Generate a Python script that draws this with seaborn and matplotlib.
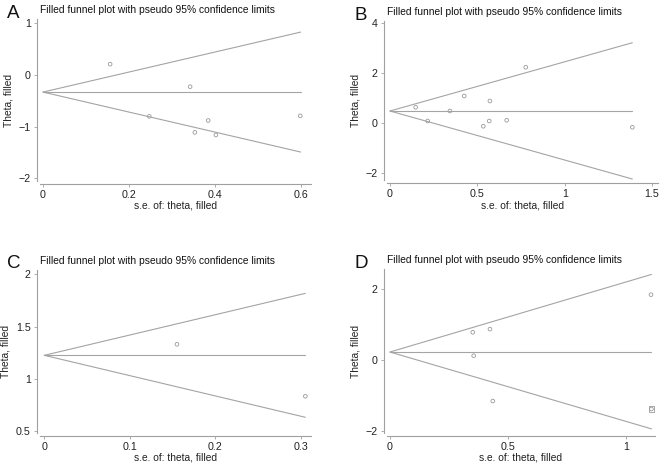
import numpy as np
import pandas as pd
import matplotlib
matplotlib.use('Agg')
import matplotlib.pyplot as plt
import seaborn as sns

# ============================================================
# Данные
# ============================================================
# A
a_se = [0.156, 0.342, 0.247, 0.353, 0.384, 0.402, 0.598]
a_theta = [0.21, -0.226, -0.80, -1.11, -0.88, -1.16, -0.79]
a_line_se = [0.0, 0.599]
a_center = -0.33
a_upper = [-0.33, 0.83]
a_lower = [-0.33, -1.49]

# B
b_se = [0.147, 0.216, 0.343, 0.425, 0.572, 0.534, 0.568, 0.668, 0.777, 1.387]
b_theta = [0.64, 0.09, 0.49, 1.09, 0.89, -0.12, 0.09, 0.12, 2.24, -0.16]
b_line_se = [0.0, 1.387]
b_center = 0.49
b_upper = [0.49, 3.22]
b_lower = [0.49, -2.23]

# C
c_se = [0.155, 0.305]
c_theta = [1.331, 0.835]
c_line_se = [0.0, 0.305]
c_center = 1.226
c_upper = [1.226, 1.818]
c_lower = [1.226, 0.634]

# D
d_se = [0.351, 0.355, 0.424, 0.436, 1.107, 1.109]
d_theta = [0.78, 0.12, 0.87, -1.155, 1.84, -1.38]
d_fill_se = [1.109]
d_fill_theta = [-1.38]
d_line_se = [0.0, 1.109]
d_center = 0.225
d_upper = [0.225, 2.41]
d_lower = [0.225, -1.94]

panels = [
    dict(letter='A', se=a_se, theta=a_theta, lse=a_line_se, center=a_center, up=a_upper, lo=a_lower,
         xticks=[0, 0.2, 0.4, 0.6], yticks=[-2, -1, 0, 1], xlim=(-0.007, 0.623), ylim=(-2.05, 1.083),
         rect=(40, 19, 311, 181)),
    dict(letter='B', se=b_se, theta=b_theta, lse=b_line_se, center=b_center, up=b_upper, lo=b_lower,
         xticks=[0, 0.5, 1, 1.5], yticks=[-2, 0, 2, 4], xlim=(-0.017, 1.534), ylim=(-2.27, 4.09),
         rect=(387, 21, 658, 180)),
    dict(letter='C', se=c_se, theta=c_theta, lse=c_line_se, center=c_center, up=c_upper, lo=c_lower,
         xticks=[0, 0.1, 0.2, 0.3], yticks=[0.5, 1, 1.5, 2], xlim=(-0.005, 0.3116), ylim=(0.484, 2.041),
         rect=(40, 270, 311, 433)),
    dict(letter='D', se=d_se, theta=d_theta, lse=d_line_se, center=d_center, up=d_upper, lo=d_lower,
         xticks=[0, 0.5, 1], yticks=[-2, 0, 2], xlim=(-0.0127, 1.124), ylim=(-2.056, 2.563),
         rect=(387, 269, 655, 433)),
]

sns.set_theme(style='ticks')
plt.rcParams['font.family'] = ['Liberation Sans', 'DejaVu Sans']

W, H = 669, 466
fig = plt.figure(figsize=(W / 100, H / 100), dpi=100)

line_col = '#a4a4a4'
spine_col = '#a0a0a0'
pt_col = '#9a9a9a'

def fmt(v):
    return f'{v:g}'.replace('-', '\u2212')

for p in panels:
    l, t, r, b = p['rect']
    ax = fig.add_axes([l / W, 1 - b / H, (r - l) / W, (b - t) / H])

    # линии псевдо-95% доверительных границ
    lines = pd.DataFrame({
        'se': p['lse'] * 3,
        'theta': [p['center'], p['center']] + p['up'] + p['lo'],
        'kind': ['center'] * 2 + ['upper'] * 2 + ['lower'] * 2,
    })
    sns.lineplot(data=lines, x='se', y='theta', units='kind', estimator=None,
                 color=line_col, linewidth=0.8, ax=ax)

    pts = pd.DataFrame({'se': p['se'], 'theta': p['theta']})
    sns.scatterplot(data=pts, x='se', y='theta', marker='o', s=7, facecolor='none',
                    edgecolor=pt_col, linewidth=0.6, ax=ax)
    if p['letter'] == 'D':
        fill = pd.DataFrame({'se': d_fill_se, 'theta': d_fill_theta})
        sns.scatterplot(data=fill, x='se', y='theta', marker='s', s=18, facecolor='none',
                        edgecolor=pt_col, linewidth=0.6, ax=ax)

    ax.set_xlim(*p['xlim'])
    ax.set_ylim(*p['ylim'])
    ax.set_xticks(p['xticks'])
    ax.set_yticks(p['yticks'])
    ax.set_xticklabels([fmt(v) for v in p['xticks']])
    ax.set_yticklabels([fmt(v) for v in p['yticks']])
    ax.tick_params(axis='both', length=2.5, width=0.6, color=spine_col, labelsize=7.7,
                   labelcolor='#222222', pad=2)
    sns.despine(ax=ax, offset=2.2)
    for s in ['left', 'bottom']:
        ax.spines[s].set_color(spine_col)
        ax.spines[s].set_linewidth(0.8)
    ax.set_xlabel('s.e. of: theta, filled', fontsize=7.4, color='#222222', labelpad=0.5)
    ax.set_ylabel('Theta, filled', fontsize=7.4, color='#222222', labelpad=4)
    ax.set_title('Filled funnel plot with pseudo 95% confidence limits', fontsize=7.4,
                 loc='left', color='#111111', pad=4)
    fig.text((l - 33) / W, 1 - (t - 6) / H, p['letter'], fontsize=13.5, va='center', ha='left',
             color='#111111')

fig.savefig('out.png', dpi=100)
